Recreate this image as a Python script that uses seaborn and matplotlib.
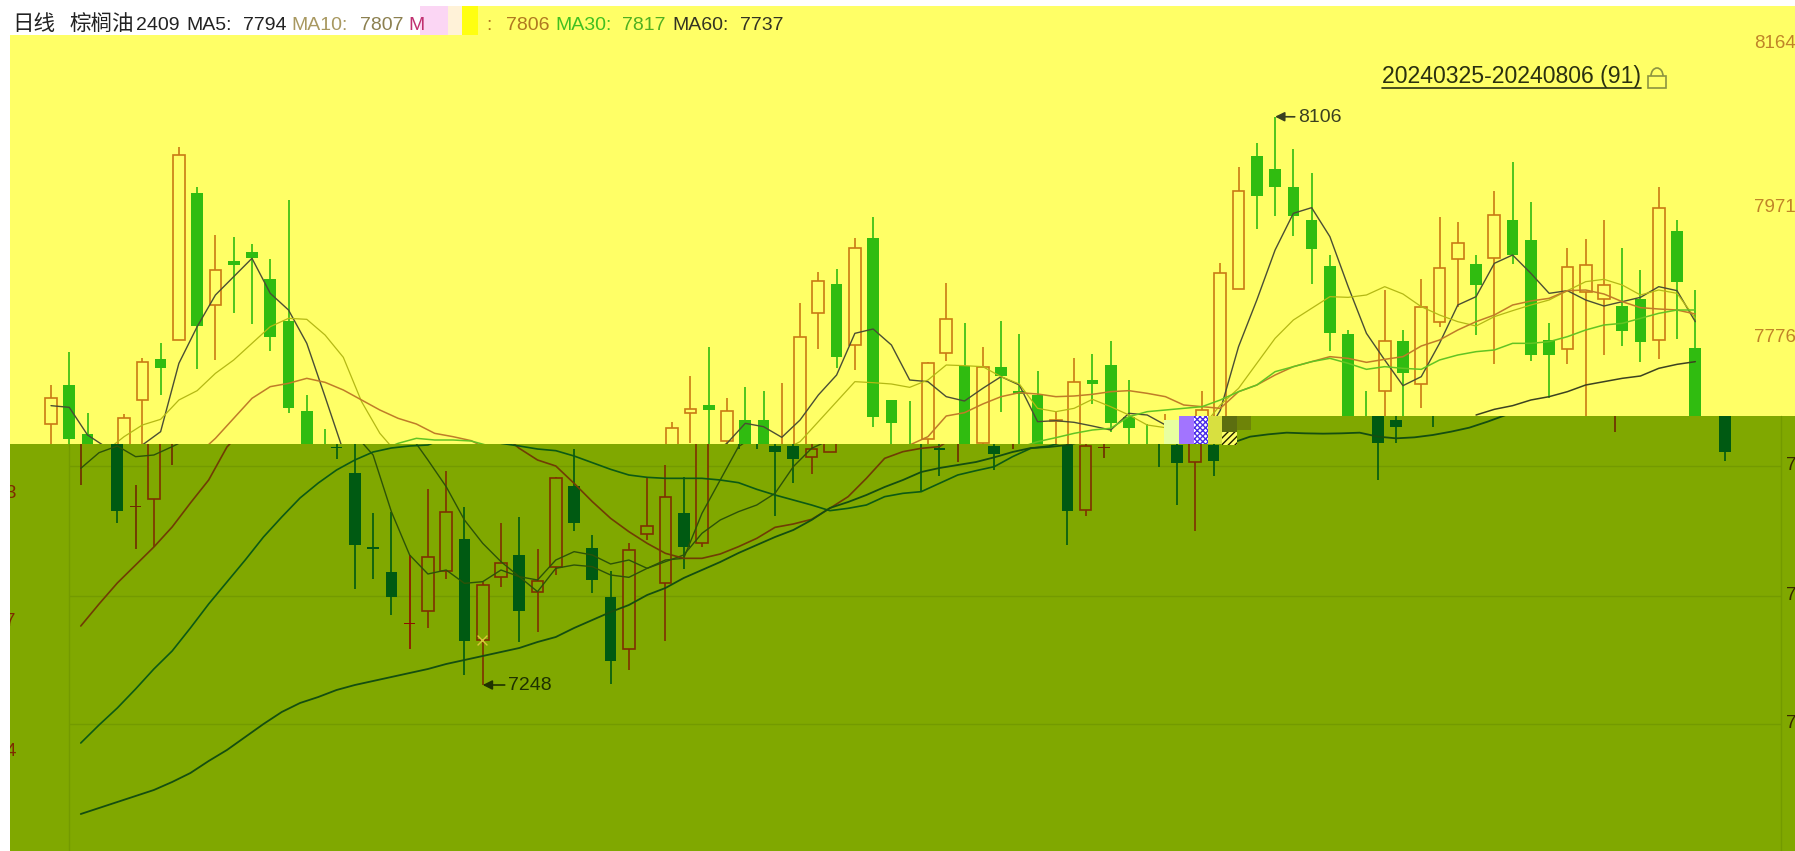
import numpy as np
import matplotlib
matplotlib.use("Agg")
import matplotlib.pyplot as plt
import seaborn as sns
from matplotlib.patches import Rectangle, Polygon, Arc
from matplotlib.transforms import Affine2D

# candles above the break (yellow part): index, kind, body top, body bottom, high, low
upper_idx = [0, 1, 2, 4, 5, 6, 7, 8, 9, 10, 11, 12, 13, 14, 15,
             34, 35, 36, 37, 38, 39, 40, 41, 42, 43, 44, 45, 46, 47, 48, 49, 50, 51, 52, 53, 54, 55, 56, 57, 58,
             59, 60, 61, 63, 64, 65, 66, 67, 68, 69, 70, 71, 72, 73, 74, 75, 76, 77, 78, 79, 80, 81, 82, 83, 84,
             85, 86, 87, 88, 89, 90]
upper_kind = ("u d d u u d u d u d d d d d d "
              "u u d u d d u u u d u d d d u u d u d d d u u d d "
              "d d u u u u d d d d d d d u "
              "d u u u d u d d d u u u d d u d d").split()
upper_top = [7684, 7704, 7630, 7654, 7739, 7742.5, 8049, 7992.5, 7876.5, 7890.5, 7904, 7863, 7800.5, 7665.5, 7600,
             7640, 7667.5, 7674, 7665, 7651.5, 7651.5, 7600, 7775.5, 7860, 7855, 7909, 7924, 7681.5, 7600, 7736.5,
             7802.5, 7732.5, 7730.5, 7731.5, 7695, 7689, 7651.5, 7708.5, 7711.5, 7734,
             7656.5, 7600, 7600, 7666.5, 7871.5, 7995, 8047.5, 8028, 8000.5, 7951.5, 7882.5, 7780.5, 7600, 7769.5,
             7770, 7821.5, 7879, 7917.5, 7885, 7958.5, 7951.5, 7921.5, 7771.5, 7881.5, 7884,
             7853.5, 7822.5, 7833.5, 7969.5, 7934.5, 7759]
upper_bot = [7645.5, 7622.5, 7590, 7590, 7681.5, 7729.5, 7771.5, 7792.5, 7824, 7884, 7894, 7776.5, 7669, 7590, 7590,
             7590, 7661.5, 7666.5, 7620.5, 7590, 7590, 7590, 7590, 7812.5, 7746, 7763.5, 7655.5, 7647.5, 7590, 7622.5,
             7752.5, 7590, 7617.5, 7718, 7690, 7590, 7650.5, 7600, 7705.5, 7647.5,
             7639, 7590, 7590, 7600, 7620, 7848, 7987.5, 8000.5, 7957.5, 7908, 7782.5, 7600, 7590, 7695,
             7722.5, 7705.5, 7799, 7892.5, 7853.5, 7895, 7899, 7749, 7749, 7757.5, 7843,
             7832.5, 7785, 7768.5, 7771.5, 7859, 7640]
upper_high = [7704, 7753, 7662.5, 7660, 7745, 7767.5, 8060.5, 8000.5, 7929, 7925.5, 7915.5, 7893, 7981.5, 7689, 7638,
              7649, 7717.5, 7761.5, 7685, 7701.5, 7695.5, 7706.5, 7827.5, 7874, 7877.5, 7924, 7956.5, 7681.5, 7680, 7739,
              7857.5, 7796.5, 7761.5, 7800, 7780.5, 7725.5, 7664, 7745, 7750.5, 7770,
              7711.5, 7646, 7660, 7695.5, 7886.5, 8030.5, 8066.5, 8106.5, 8057.5, 8022.5, 7898.5, 7786.5, 7695.5, 7846.5,
              7786.5, 7862.5, 7956.5, 7948, 7899, 7995, 8038, 7978.5, 7796.5, 7910, 7923.5,
              7951.5, 7910, 7876.5, 8000.5, 7951.5, 7846.5]
upper_low = [7600, 7600, 7580, 7580, 7600, 7689, 7771.5, 7728, 7741.5, 7812.5, 7795.5, 7755, 7661.5, 7585, 7580,
             7580, 7617.5, 7600, 7610, 7580, 7580, 7580, 7580, 7758, 7730, 7726.5, 7641.5, 7600, 7580, 7600,
             7740, 7580, 7600, 7664, 7600, 7580, 7600, 7590, 7675.5, 7634,
             7615, 7580, 7580, 7600, 7620, 7848, 7938.5, 7957.5, 7927.5, 7855.5, 7755, 7590, 7580, 7600,
             7650, 7670, 7790.5, 7821.5, 7779, 7735.5, 7885.5, 7740.5, 7684, 7735.5, 7650,
             7749, 7762.5, 7738, 7743, 7773.5, 7630]

# candles below the break (olive part), same idea
lower_idx = [1, 3, 4, 5, 6, 15, 16, 17, 18, 19, 20, 21, 22, 23, 24, 25, 26, 27, 28, 29, 30, 31, 32, 33, 34, 35,
             37, 38, 39, 40, 41, 42, 47, 48, 49, 51, 52, 55, 56, 57, 60, 61, 62, 63, 72, 73, 75, 85, 91]
lower_kind = ("r d r u r d d d d x u u d u u d u u d d d u u u d u "
              "d d d d u u d d r d r d u r d d u d d d d r d").split()
lower_top = [7630, 7620, 7522.5, 7630, 7630, 7611.5, 7572.5, 7460.5, 7424, 7347.5, 7445.5, 7514, 7473.5, 7404,
             7436.5, 7449, 7410.5, 7564, 7552.5, 7460, 7385.5, 7456.5, 7492.5, 7536.5, 7512.5, 7630,
             7630, 7630, 7613, 7613, 7607.5, 7630, 7625, 7609, 7630, 7613, 7630, 7614, 7612.5, 7611.5,
             7630, 7613.5, 7630, 7613.5, 7658, 7651.5, 7665, 7665, 7658]
lower_bot = [7625, 7515.5, 7520.5, 7533, 7625, 7609, 7464, 7458, 7386.5, 7345, 7365.5, 7425.5, 7320.5, 7321.5,
             7415.5, 7365, 7393, 7431.5, 7496.5, 7411.5, 7290.5, 7307.5, 7480.5, 7406.5, 7460.5, 7466.5,
             7625, 7625, 7604, 7592.5, 7595.5, 7604, 7620, 7607, 7625, 7600.5, 7625, 7515.5, 7516.5, 7610,
             7625, 7587.5, 7588, 7590, 7617.5, 7641.5, 7660, 7660, 7603]
lower_high = [7630, 7630, 7554, 7630, 7630, 7638, 7630, 7512.5, 7514, 7449, 7547.5, 7575, 7520.5, 7409,
              7496.5, 7506.5, 7457.5, 7566.5, 7608, 7479, 7425.5, 7467.5, 7565.5, 7584, 7565.5, 7630,
              7630, 7630, 7630, 7630, 7630, 7630, 7630, 7630, 7630, 7630, 7630, 7630, 7630, 7615,
              7630, 7630, 7630, 7630, 7660, 7660, 7665, 7665, 7660]
lower_low = [7554, 7496.5, 7458, 7461.5, 7584, 7592.5, 7397.5, 7413, 7359, 7307.5, 7339, 7413, 7269, 7254,
             7400.5, 7318, 7334, 7419, 7485.5, 7391.5, 7255, 7276.5, 7471.5, 7320.5, 7427.5, 7461.5,
             7607.5, 7607.5, 7507.5, 7557.5, 7570.5, 7604, 7544, 7567.5, 7589, 7576.5, 7607.5, 7463.5, 7507.5, 7594,
             7581.5, 7524, 7485.5, 7567.5, 7561.5, 7617.5, 7641.5, 7633, 7590]

# moving averages, yellow part (first index, values)
ma5_a = (0, [7673, 7670.5, 7629, 7611, 7611, 7614, 7634, 7736.5, 7791.5, 7839, 7866.5, 7894, 7841.5, 7816.5, 7766.5, 7686.5, 7605])
ma5_b = (36, [7600, 7616.5, 7646.5, 7641.5, 7625.5, 7651.5, 7689, 7719, 7781.5, 7788, 7764, 7711.5, 7709, 7686.5, 7680, 7699,
              7716.5, 7704, 7649, 7650.5, 7648, 7642.5, 7636.5, 7661.5, 7659, 7644, 7630, 7620, 7666, 7761.5, 7831.5,
              7906.5, 7961.5, 7970, 7926.5, 7851.5, 7781.5, 7741.5, 7703, 7716.5, 7766.5, 7824, 7836.5, 7886.5, 7899,
              7871.5, 7841.5, 7845.5, 7831.5, 7822.5, 7829, 7835.5, 7851.5, 7845.5, 7799])
ma10_a = (3, [7605, 7626.5, 7644, 7652.5, 7681.5, 7695.5, 7721.5, 7741.5, 7766.5, 7791.5, 7804, 7802.5, 7779, 7745.5, 7679, 7631.5, 7600])
ma10_b = (40, [7605, 7619, 7649, 7679, 7709, 7707.5, 7705.5, 7700.5, 7711.5, 7734, 7733, 7731.5, 7716.5, 7705.5, 7669, 7664,
               7669, 7682.5, 7671.5, 7659, 7644, 7640, 7635, 7640, 7674, 7699, 7736.5, 7774, 7801.5, 7819, 7836.5, 7835.5,
               7839, 7851.5, 7840.5, 7821.5, 7809, 7799, 7792.5, 7806.5, 7815.5, 7824, 7831.5, 7845.5, 7859, 7862.5, 7854,
               7839, 7846.5, 7841.5, 7804])
ma20_a = (8, [7599, 7624, 7654, 7684, 7701.5, 7706.5, 7714, 7708, 7696.5, 7681.5, 7666.5, 7654, 7645.5, 7631.5, 7626.5, 7620.5, 7606.5])
ma20_b = (47, [7614, 7626.5, 7657.5, 7662.5, 7675.5, 7686.5, 7692.5, 7690.5, 7686.5, 7687.5, 7690, 7694, 7695.5, 7691.5, 7686.5,
               7674, 7671.5, 7669, 7694, 7704, 7719, 7731.5, 7739, 7746.5, 7744, 7738, 7742.5, 7746.5, 7762.5, 7771.5, 7786.5,
               7799, 7809, 7824, 7830, 7834, 7845.5, 7846.5, 7840.5, 7829, 7820, 7818, 7816.5, 7810.5])
ma30_a = (18, [7605, 7616.5, 7624, 7621.5, 7621.5, 7620, 7612.5])
ma30_b = (53, [7610, 7619, 7625, 7631.5, 7636.5, 7639, 7656.5, 7664, 7666.5, 7669, 7671.5, 7681.5, 7694, 7704, 7724, 7731.5, 7739,
               7744, 7736.5, 7727.5, 7731.5, 7729, 7727.5, 7741.5, 7749, 7754, 7756.5, 7766.5, 7766.5, 7769, 7776.5, 7786.5,
               7794, 7796.5, 7804, 7811.5, 7816.5, 7816.5])
ma60_a = (78, [7659, 7667.5, 7673, 7681.5, 7686.5, 7694, 7704, 7709, 7714, 7717.5, 7729, 7735, 7739])

# moving averages, olive part
low_ma5_a = (1, [7579, 7602.5, 7612.5, 7596.5, 7599, 7611.5, 7625])
low_ma5_b = (16, [7630, 7599, 7514, 7449, 7420.5, 7426.5, 7406.5, 7409, 7426.5, 7416.5, 7411.5, 7441.5, 7454, 7449, 7435.5,
                  7441.5, 7429, 7441.5, 7444, 7511.5, 7561.5, 7611.5, 7630])
low_ma10 = (19, [7630, 7591.5, 7551.5, 7501.5, 7466.5, 7439, 7416.5, 7394, 7429, 7434, 7431.5, 7419, 7415.5, 7429, 7439, 7449,
                 7481.5, 7501.5, 7514, 7524, 7541.5, 7581.5, 7609, 7621.5])
low_ma20_a = (1, [7342.5, 7375.5, 7407, 7434, 7461, 7491, 7527, 7561.5, 7611, 7640])
low_ma20_b = (24, [7631.5, 7609, 7591.5, 7582.5, 7556.5, 7529, 7504, 7484, 7466.5, 7451.5, 7444, 7444, 7450.5, 7461.5, 7474,
                   7490.5, 7495.5, 7502.5, 7519, 7536.5, 7564, 7594, 7604, 7609, 7611.5, 7630])
low_ma30_a = (1, [7167, 7194, 7219.5, 7248, 7278, 7305, 7339.5, 7375.5, 7408.5, 7441.5, 7476, 7506, 7534.5, 7557, 7576.5,
                  7591.5, 7603.5, 7609.5, 7612.5, 7614, 7625])
low_ma30_b = (24, [7616.5, 7612.5, 7608, 7605.5, 7597.5, 7587.5, 7577.5, 7569, 7565.5, 7564, 7564, 7564, 7561.5, 7557.5, 7547.5,
                   7539, 7531.5, 7524, 7515.5, 7519, 7524, 7536.5, 7541.5, 7544, 7556.5, 7569, 7575.5, 7581.5, 7596.5, 7609,
                   7612.5, 7620])
low_ma60_a = (1, [7060.5, 7069.5, 7078.5, 7087.5, 7096.5, 7108.5, 7122, 7140, 7156.5, 7176, 7195.5, 7213.5, 7227, 7236, 7246.5,
                  7254, 7260, 7266, 7272, 7278, 7285.5, 7291.5, 7297.5, 7303.5, 7309.5, 7318.5, 7326, 7339.5, 7351.5, 7363.5,
                  7374, 7389, 7399.5, 7414.5, 7426.5, 7438.5, 7452, 7464, 7476, 7486.5, 7501.5, 7519.5, 7528.5, 7539, 7551,
                  7561.5, 7573.5, 7579.5, 7584, 7588.5, 7595.5, 7603.5, 7609.5, 7611, 7614, 7620])
low_ma60_b = (64, [7617, 7626.5, 7630, 7632.5, 7631.5, 7631, 7631.5, 7632.5, 7626.5, 7624, 7625.5, 7629, 7634, 7640, 7649, 7659])

grid_values = [7582, 7387, 7195]
right_labels = ["8164", "7971", "7776"]
right_label_y = [43, 207, 337]
cut_labels = ["7", "7", "7"]
cut_label_y = [466, 595, 723]
left_bits = ["3", "7", "4"]
left_bit_y = [494, 621, 752]

YELLOW = "#FFFF66"
OLIVE = "#80A800"
lower_shift = 0.63

sns.set_theme(style="white")
plt.rcParams['font.family'] = ['Liberation Sans', 'Noto Sans CJK SC', 'DejaVu Sans']

fig = plt.figure(figsize=(17.95, 8.51), dpi=100, facecolor="white")
ax = fig.add_axes([0, 0, 1, 1])
ax.axis("off")
ax.set_autoscale_on(False)
ax.set_xlim(-51 / 18.27, (1795 - 51) / 18.27)
ax.set_ylim(7005, 8281.5)

# screen pixels, y going down, for the page furniture
pix = Affine2D().scale(1, -1).translate(0, 851)


def box(x, y, w, h, color, z=1, **kw):
    ax.add_patch(Rectangle((x, y), w, h, transform=pix, facecolor=color, edgecolor="none", zorder=z, **kw))


box(10, 6, 1785, 845, YELLOW, 0)
box(10, 6, 410, 29, "white", 0.5)
olive_shape = [(10, 851), (10, 444), (1237, 444), (1237, 416), (1795, 416), (1795, 851)]
yellow_shape = [(10, 6), (1795, 6), (1795, 416), (1237, 416), (1237, 444), (10, 444)]
ax.add_patch(Polygon(olive_shape, transform=pix, facecolor=OLIVE, edgecolor="none", zorder=0.6))
clip_up = Polygon(yellow_shape, transform=pix)
clip_low = Polygon(olive_shape, transform=pix)

# grid only shows in the olive part
ax.hlines(grid_values, (69 - 51) / 18.27, (1781 - 51) / 18.27, color="#739A00", lw=1.0, zorder=0.8)
ax.plot([69, 69], [444, 851], transform=pix, color="#739A00", lw=1.0, zorder=0.8)
ax.plot([1781, 1781], [416, 851], transform=pix, color="#739A00", lw=1.0, zorder=0.8)


def candles(xs, kinds, tops, bots, highs, lows, clip, styles, face):
    xs = np.array(xs, dtype=float)
    tops, bots, highs, lows = map(np.array, (tops, bots, highs, lows))
    for k, (edge, solid) in styles.items():
        m = np.array([c == k for c in kinds])
        if not m.any():
            continue
        for a, b in ((highs[m], tops[m]), (bots[m], lows[m])):
            v = ax.vlines(xs[m], b, a, color=edge, lw=1.2, zorder=2)
            v.set_clip_path(clip)
        bars = ax.bar(xs[m], tops[m] - bots[m], bottom=bots[m], width=0.64,
                      facecolor=edge if solid else face, edgecolor=edge,
                      linewidth=0 if solid else 1.2, zorder=2.5)
        for p in bars:
            p.set_clip_path(clip)


candles(upper_idx, upper_kind, upper_top, upper_bot, upper_high, upper_low, clip_up,
        {"u": ("#C97A14", False), "d": ("#30BC10", True)}, YELLOW)
candles(np.array(lower_idx) + lower_shift, lower_kind, lower_top, lower_bot, lower_high, lower_low, clip_low,
        {"u": ("#7E3000", False), "d": ("#005A12", True), "r": ("#6E2A00", True), "x": ("#8E1000", True)}, OLIVE)


def ma_line(series, color, clip, lw=0.9, shift=0.0):
    start, vals = series
    xs = np.arange(start, start + len(vals)) + shift
    sns.lineplot(x=xs, y=vals, ax=ax, color=color, linewidth=lw, estimator=None, sort=False, zorder=3)
    ax.lines[-1].set_clip_path(clip)


for s in (ma5_a, ma5_b):
    ma_line(s, "#4A4E34", clip_up, 1.0)
for s in (ma10_a, ma10_b):
    ma_line(s, "#B4B814", clip_up)
for s in (ma20_a, ma20_b):
    ma_line(s, "#C07C28", clip_up, 1.1)
for s in (ma30_a, ma30_b):
    ma_line(s, "#62C422", clip_up, 1.1)
ma_line(ma60_a, "#3C4220", clip_up, 1.1)

for s in (low_ma5_a, low_ma5_b, low_ma10):
    ma_line(s, "#2C5208", clip_low, 1.0, lower_shift)
for s in (low_ma20_a, low_ma20_b):
    ma_line(s, "#703C04", clip_low, 1.2, lower_shift)
for s in (low_ma30_a, low_ma30_b):
    ma_line(s, "#0C5A14", clip_low, 1.2, lower_shift)
for s in (low_ma60_a, low_ma60_b):
    ma_line(s, "#144E10", clip_low, 1.3, lower_shift)

# broken block in the middle of the picture
box(1164, 420, 15, 24, "#E8FFA0", 4)
box(1179, 416, 15, 28, "#A274FF", 4.1)
ax.add_patch(Rectangle((1194, 416), 14, 28, transform=pix, facecolor="white", edgecolor="#4A2CE8",
                       hatch="xxxxxx", lw=0, zorder=4.1))
box(1208, 416, 14, 28, "#D8E040", 4)
ax.add_patch(Rectangle((1222, 432), 15, 13, transform=pix, facecolor=YELLOW, edgecolor="#202000",
                       hatch="/////", lw=0, zorder=4.1))
box(1222, 416, 15, 16, "#5C6E10", 4)
box(1237, 416, 14, 14, "#6E8408", 4)
ax.scatter([482], [640], transform=pix, marker="x", s=50, color="#D8C838", lw=1, zorder=4)

# header
head = [("2409", 136, "#222222"), ("MA5:", 186, "#222222"),
        ("7794", 243, "#222222"), ("MA10:", 291, "#A89860"), ("7807", 360, "#8C8050"), ("M", 408, "#C03070"),
        (":", 486, "#B07820"), ("7806", 506, "#B07820"), ("MA30:", 555, "#40C020"), ("7817", 622, "#50B020"),
        ("MA60:", 672, "#333322"), ("7737", 740, "#333322")]
head_cjk = [("日线", 12), ("棕榈油", 70)]
box(420, 6, 28, 29, "#FBD6F4", 5)
box(448, 6, 14, 29, "#FFF2D8", 5)
box(462, 6, 16, 29, "#FFFF10", 5)
for txt, x, col in head:
    ax.text(x, 25, txt, transform=pix, color=col, fontsize=14, va="center", ha="left", zorder=6)
for txt, x in head_cjk:
    ax.text(x, 25, txt, transform=pix, color="#222222", fontsize=15.5, va="center", ha="left", zorder=6)

for txt, y in zip(right_labels, right_label_y):
    ax.text(1754, y, txt, transform=pix, color="#C08428", fontsize=13.5, va="center", ha="left", zorder=6)
for txt, y in zip(cut_labels, cut_label_y):
    ax.text(1786, y, txt, transform=pix, color="#3A2A00", fontsize=13.5, va="center", ha="left", zorder=6)
for txt, y in zip(left_bits, left_bit_y):
    ax.text(16, y, txt, transform=pix, color="#7E2A00", fontsize=13.5, va="center", ha="right", zorder=6)
box(0, 0, 10, 851, "white", 7)

ax.text(1382, 77, "20240325-20240806 (91)", transform=pix, color="#2A3010", fontsize=16.6, va="center", ha="left", zorder=6)
ax.plot([1382, 1641], [88, 88], transform=pix, color="#2A3010", lw=1.2, zorder=6)
ax.add_patch(Rectangle((1648, 76), 18, 12, transform=pix, facecolor="none", edgecolor="#8C9440", lw=1.2, zorder=6))
ax.add_patch(Arc((1657, 76), 12, 16, theta1=180, theta2=360, transform=pix, edgecolor="#8C9440", lw=1.2, zorder=6))

ax.annotate("8106", xy=(67, 8106.5), xytext=(1298, 117), textcoords=pix, color="#3A4020", fontsize=14,
            va="center", ha="left", zorder=6,
            arrowprops=dict(arrowstyle="-|>", color="#3A4020", lw=1.2, shrinkA=0, shrinkB=0))
ax.annotate("7248", xy=(23 + lower_shift, 7254), xytext=(508, 685), textcoords=pix, color="#1E3200", fontsize=14,
            va="center", ha="left", zorder=6,
            arrowprops=dict(arrowstyle="-|>", color="#1E3200", lw=1.2, shrinkA=0, shrinkB=0))

ax.set_xlim(-51 / 18.27, (1795 - 51) / 18.27)
ax.set_ylim(7005, 8281.5)
fig.savefig("out.png", dpi=100, facecolor="white")
